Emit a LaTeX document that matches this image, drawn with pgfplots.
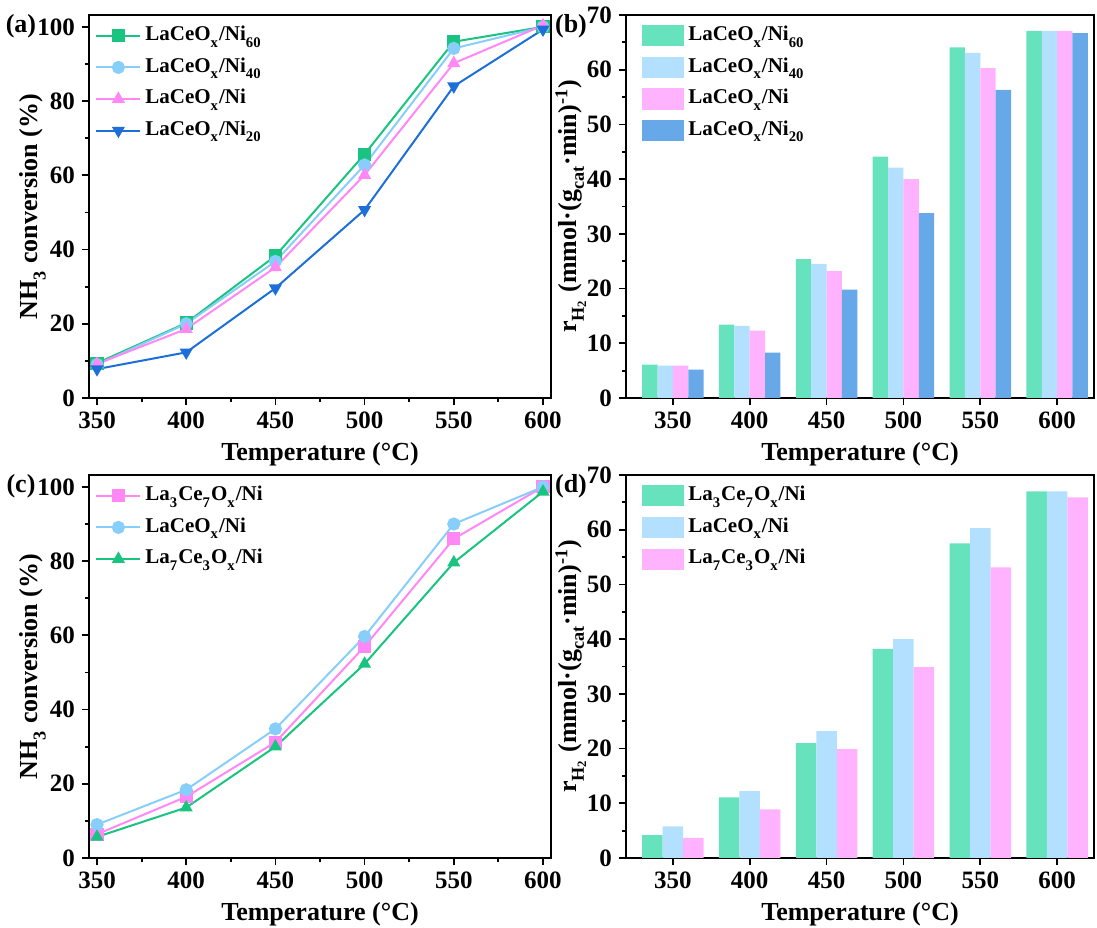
\documentclass[border=0pt]{standalone}
\usepackage{fontspec}
\setmainfont{Liberation Serif}
\usepackage{pgfplots}
\pgfplotsset{compat=1.18}

\definecolor{lgreen}{HTML}{18C47F}
\definecolor{lblue}{HTML}{87CEFA}
\definecolor{lpink}{HTML}{FF88F6}
\definecolor{lbl}{HTML}{1C6ED8}
\definecolor{bgreen}{HTML}{66E3BC}
\definecolor{bblue}{HTML}{B3E0FF}
\definecolor{bpink}{HTML}{FFB3FF}
\definecolor{bdblue}{HTML}{66A8E8}

\newcommand\sub[1]{\raisebox{-0.35ex}{\textsubscript{#1}}}

\pgfplotsset{
 common/.style={scale only axis, width=231pt, height=191.5pt,
   axis line style={line width=1.2pt}, tick style={line width=0.9pt, black},
   tick align=outside, major tick length=3.5pt, minor tick length=2pt,
   xtick pos=left, ytick pos=left, clip=false,
   /pgf/number format/assume math mode=true,
   tick label style={font=\bfseries\fontsize{12.5}{13}\selectfont},
   label style={font=\bfseries\fontsize{13}{14}\selectfont},
   xlabel={Temperature (°C)},
   legend style={draw=none, fill=none, inner sep=0pt, anchor=north west,
     font=\bfseries\fontsize{10.5}{12}\selectfont, row sep=0pt,
     nodes={inner ysep=2.25pt, text height=8pt, text depth=3.3pt},
     /tikz/every even column/.append style={column sep=2pt}},
   legend cell align=left},
 linep/.style={common, xmin=345.5, xmax=604.5, ymin=0, ymax=103.2,
   xtick={350,400,...,600}, minor x tick num=1, ytick={0,20,...,100}, minor y tick num=1,
   ylabel={NH\sub{3} conversion (\%)}, ylabel shift=-11pt,
   legend style={at={(0.013,0.988)}},
   every axis plot/.append style={line width=1pt, mark size=2.8pt},
   legend image code/.code={\draw[mark repeat=2,mark phase=2,##1] plot coordinates {(0pt,0pt) (11pt,0pt) (22pt,0pt)};}},
 barp/.style={common, width=234pt, xmin=-0.61, xmax=5.48, ymin=0, ymax=70,
   xtick={0,...,5}, xticklabels={350,400,450,500,550,600},
   ytick={0,10,...,70}, minor y tick num=1,
   ylabel={r\sub{H\textsubscript{2}} (mmol·(g\sub{cat}·min)\textsuperscript{-1})}, ylabel shift=-6.5pt,
   ybar, area legend,
   legend style={at={(0.034,0.988)}},
   legend image code/.code={\fill[##1] (0pt,-5.25pt) rectangle (21pt,5.25pt);}},
}

\begin{document}
\begin{tikzpicture}
\path[use as bounding box] (-44.5pt,7.5pt) rectangle (504pt,-456pt);

% (a)
\begin{axis}[linep, at={(0pt,0pt)}, anchor=north west]
\addplot[lgreen, mark=square*, mark options={fill=lgreen}] coordinates {(350,9.4)(400,20.2)(450,38.3)(500,65.7)(550,96.0)(600,100)};
\addlegendentry{LaCeO\sub{x}/Ni\sub{60}}
\addplot[lblue, mark=*, mark options={fill=lblue}] coordinates {(350,9.0)(400,20.0)(450,36.8)(500,62.8)(550,94.2)(600,100)};
\addlegendentry{LaCeO\sub{x}/Ni\sub{40}}
\addplot[lpink, mark=triangle*, mark options={fill=lpink}] coordinates {(350,9.2)(400,18.6)(450,35.2)(500,60.1)(550,90.2)(600,100.4)};
\addlegendentry{LaCeO\sub{x}/Ni}
\addplot[lbl, mark=triangle*, mark options={fill=lbl, rotate=180}] coordinates {(350,7.8)(400,12.3)(450,29.6)(500,50.7)(550,84.0)(600,99.3)};
\addlegendentry{LaCeO\sub{x}/Ni\sub{20}}
\end{axis}

% (b)
\begin{axis}[barp, at={(268.5pt,0pt)}, anchor=north west]
\addplot[fill=bgreen, draw=none, bar width=0.2, bar shift=-0.3] coordinates {(0,6.1)(1,13.4)(2,25.4)(3,44.1)(4,64.1)(5,67.1)};
\addlegendentry{LaCeO\sub{x}/Ni\sub{60}}
\addplot[fill=bblue, draw=none, bar width=0.2, bar shift=-0.1] coordinates {(0,5.9)(1,13.2)(2,24.5)(3,42.1)(4,63.1)(5,67.1)};
\addlegendentry{LaCeO\sub{x}/Ni\sub{40}}
\addplot[fill=bpink, draw=none, bar width=0.2, bar shift=0.1] coordinates {(0,5.9)(1,12.3)(2,23.2)(3,40.0)(4,60.3)(5,67.1)};
\addlegendentry{LaCeO\sub{x}/Ni}
\addplot[fill=bdblue, draw=none, bar width=0.2, bar shift=0.3] coordinates {(0,5.2)(1,8.3)(2,19.8)(3,33.8)(4,56.3)(5,66.7)};
\addlegendentry{LaCeO\sub{x}/Ni\sub{20}}
\end{axis}

% (c)
\begin{axis}[linep, at={(0pt,-230pt)}, anchor=north west]
\addplot[lpink, mark=square*, mark options={fill=lpink}] coordinates {(350,6.4)(400,16.5)(450,31.2)(500,57.0)(550,86.0)(600,100)};
\addlegendentry{La\sub{3}Ce\sub{7}O\sub{x}/Ni}
\addplot[lblue, mark=*, mark options={fill=lblue}] coordinates {(350,9.0)(400,18.4)(450,34.8)(500,59.7)(550,90.0)(600,100)};
\addlegendentry{LaCeO\sub{x}/Ni}
\addplot[lgreen, mark=triangle*, mark options={fill=lgreen}] coordinates {(350,5.7)(400,13.6)(450,30.0)(500,52.3)(550,79.6)(600,98.7)};
\addlegendentry{La\sub{7}Ce\sub{3}O\sub{x}/Ni}
\end{axis}

% (d)
\begin{axis}[barp, at={(268.5pt,-230pt)}, anchor=north west]
\addplot[fill=bgreen, draw=none, bar width=0.2667, bar shift=-0.2667] coordinates {(0,4.2)(1,11.1)(2,21.0)(3,38.2)(4,57.5)(5,67.0)};
\addlegendentry{La\sub{3}Ce\sub{7}O\sub{x}/Ni}
\addplot[fill=bblue, draw=none, bar width=0.2667, bar shift=0] coordinates {(0,5.8)(1,12.2)(2,23.2)(3,40.0)(4,60.3)(5,67.0)};
\addlegendentry{LaCeO\sub{x}/Ni}
\addplot[fill=bpink, draw=none, bar width=0.2667, bar shift=0.2667] coordinates {(0,3.7)(1,8.9)(2,19.9)(3,34.9)(4,53.1)(5,65.9)};
\addlegendentry{La\sub{7}Ce\sub{3}O\sub{x}/Ni}
\end{axis}

\node[font=\bfseries\fontsize{13}{14}\selectfont, inner sep=0pt] at (-34pt,-5.5pt) {(a)};
\node[font=\bfseries\fontsize{13}{14}\selectfont, inner sep=0pt] at (241pt,-5.5pt) {(b)};
\node[font=\bfseries\fontsize{13}{14}\selectfont, inner sep=0pt] at (-34pt,-235.5pt) {(c)};
\node[font=\bfseries\fontsize{13}{14}\selectfont, inner sep=0pt] at (241pt,-235.5pt) {(d)};
\end{tikzpicture}
\end{document}
